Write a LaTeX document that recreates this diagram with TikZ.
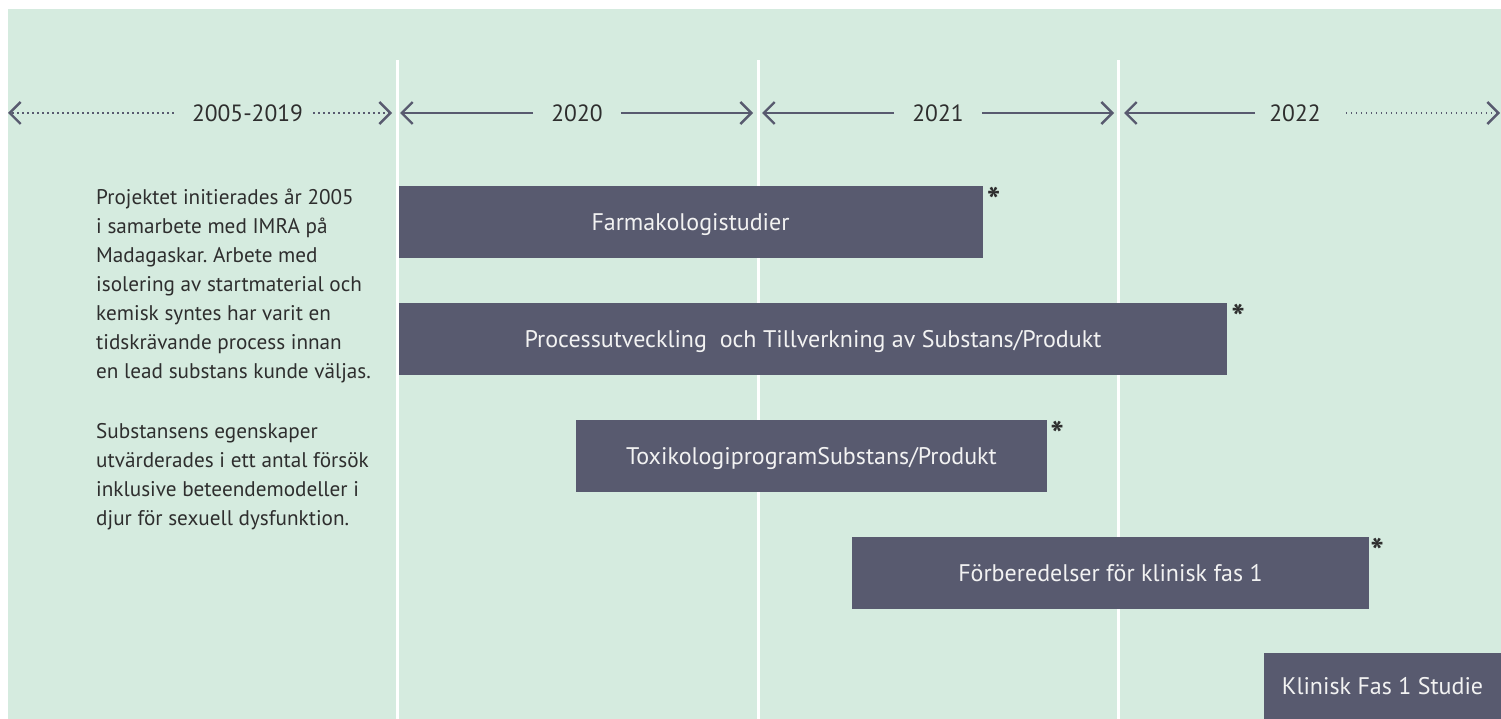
\documentclass[tikz,border=0pt]{standalone}
\usepackage{fontspec}
\setmainfont{PT Sans}
\usetikzlibrary{arrows.meta}
\definecolor{bg}{HTML}{D5EBDF}
\definecolor{bar}{HTML}{585A6F}
\definecolor{ink}{HTML}{2E2E2E}
\definecolor{bartext}{HTML}{F2F2F2}
\frenchspacing
\begin{document}
\begin{tikzpicture}[x=1pt,y=-1pt,
  bararrow/.style={draw=bar, line width=2pt, -{Straight Barb[length=11pt,width=22pt,line width=2.4pt]}},
  dotarrow/.style={bararrow, dash pattern=on 1.6pt off 3.4pt},
  yearlabel/.style={text=ink, font=\fontsize{23.5}{28}\selectfont, inner xsep=18pt, inner ysep=0pt},
  barbox/.style={fill=bar, text=bartext, inner sep=0pt, font=\fontsize{24}{28}\selectfont, text height=16.8pt, text depth=0pt},
  star/.style={text=ink, font=\bfseries\fontsize{36}{40}\selectfont, inner sep=0pt, anchor=base},
  divider/.style={draw=white, line width=2.6pt}
]
\useasboundingbox (0,0) rectangle (1501,719);
\fill[white] (0,0) rectangle (1501,719);
\fill[bg] (8,9) rectangle (1501,719);

% dividers
\coordinate (d1t) at (397.5,60); \coordinate (d1b) at (397.5,719);
\coordinate (d2t) at (758.5,60); \coordinate (d2b) at (758.5,719);
\coordinate (d3t) at (1118.5,60); \coordinate (d3b) at (1118.5,719);
\draw[divider] (d1t) -- (d1b);
\draw[divider] (d2t) -- (d2b);
\draw[divider] (d3t) -- (d3b);

% year timeline
\node[yearlabel] (y1) at (247.5,113) {2005-2019};
\node[yearlabel] (y2) at (577,113) {2020};
\node[yearlabel] (y3) at (938,113) {2021};
\node[yearlabel] (y4) at (1295,113) {2022};
\coordinate (t1l) at (8,113);   \coordinate (t1r) at (392,113);
\coordinate (t2l) at (400,113); \coordinate (t2r) at (753,113);
\coordinate (t3l) at (762,113); \coordinate (t3r) at (1114,113);
\coordinate (t4l) at (1124,113); \coordinate (t4r) at (1500,113);
\draw[dotarrow] (y1.west) -- (t1l);
\draw[dotarrow] ([xshift=-8pt]y1.east) -- (t1r);
\draw[bararrow] (y2.west) -- (t2l);
\draw[bararrow] (y2.east) -- (t2r);
\draw[bararrow] (y3.west) -- (t3l);
\draw[bararrow] (y3.east) -- (t3r);
\draw[bararrow] ([xshift=4pt]y4.west) -- (t4l);
\draw[dotarrow] ([xshift=7pt]y4.east) -- (t4r);

% left text
\node[anchor=base west, inner sep=0pt, text=ink] (intro) at (96,205) {\parbox[t]{300pt}{\fontsize{21.2}{29}\selectfont\raggedright
Projektet initierades år 2005\\
i samarbete med IMRA på\\
Madagaskar. Arbete med\\
isolering av startmaterial och\\
kemisk syntes har varit en\\
tidskrävande process innan\\
en lead substans kunde väljas.\\[31pt]
Substansens egenskaper\\
utvärderades i ett antal försök\\
inklusive beteendemodeller i\\
djur för sexuell dysfunktion.}};

% bars
\node[barbox, minimum width=584pt, minimum height=72pt] (b1) at (690.5,222) {Farmakologistudier};
\node[barbox, minimum width=828pt, minimum height=72pt] (b2) at (813,339) {Processutveckling\ \ och Tillverkning av Substans/Produkt};
\node[barbox, minimum width=471pt, minimum height=72pt] (b3) at (811.5,456) {ToxikologiprogramSubstans/Produkt};
\node[barbox, minimum width=517pt, minimum height=72pt] (b4) at (1110.5,573) {Förberedelser för klinisk fas 1};
\node[barbox, minimum width=237pt, minimum height=66pt] (b5) at (1382.5,686) {Klinisk Fas 1 Studie};

% asterisks
\node[star] (s1) at ([xshift=11pt,yshift=-28pt]b1.north east) {*};
\node[star] (s2) at ([xshift=11pt,yshift=-28pt]b2.north east) {*};
\node[star] (s3) at ([xshift=10pt,yshift=-28pt]b3.north east) {*};
\node[star] (s4) at ([xshift=8pt,yshift=-28pt]b4.north east) {*};
\end{tikzpicture}
\end{document}
